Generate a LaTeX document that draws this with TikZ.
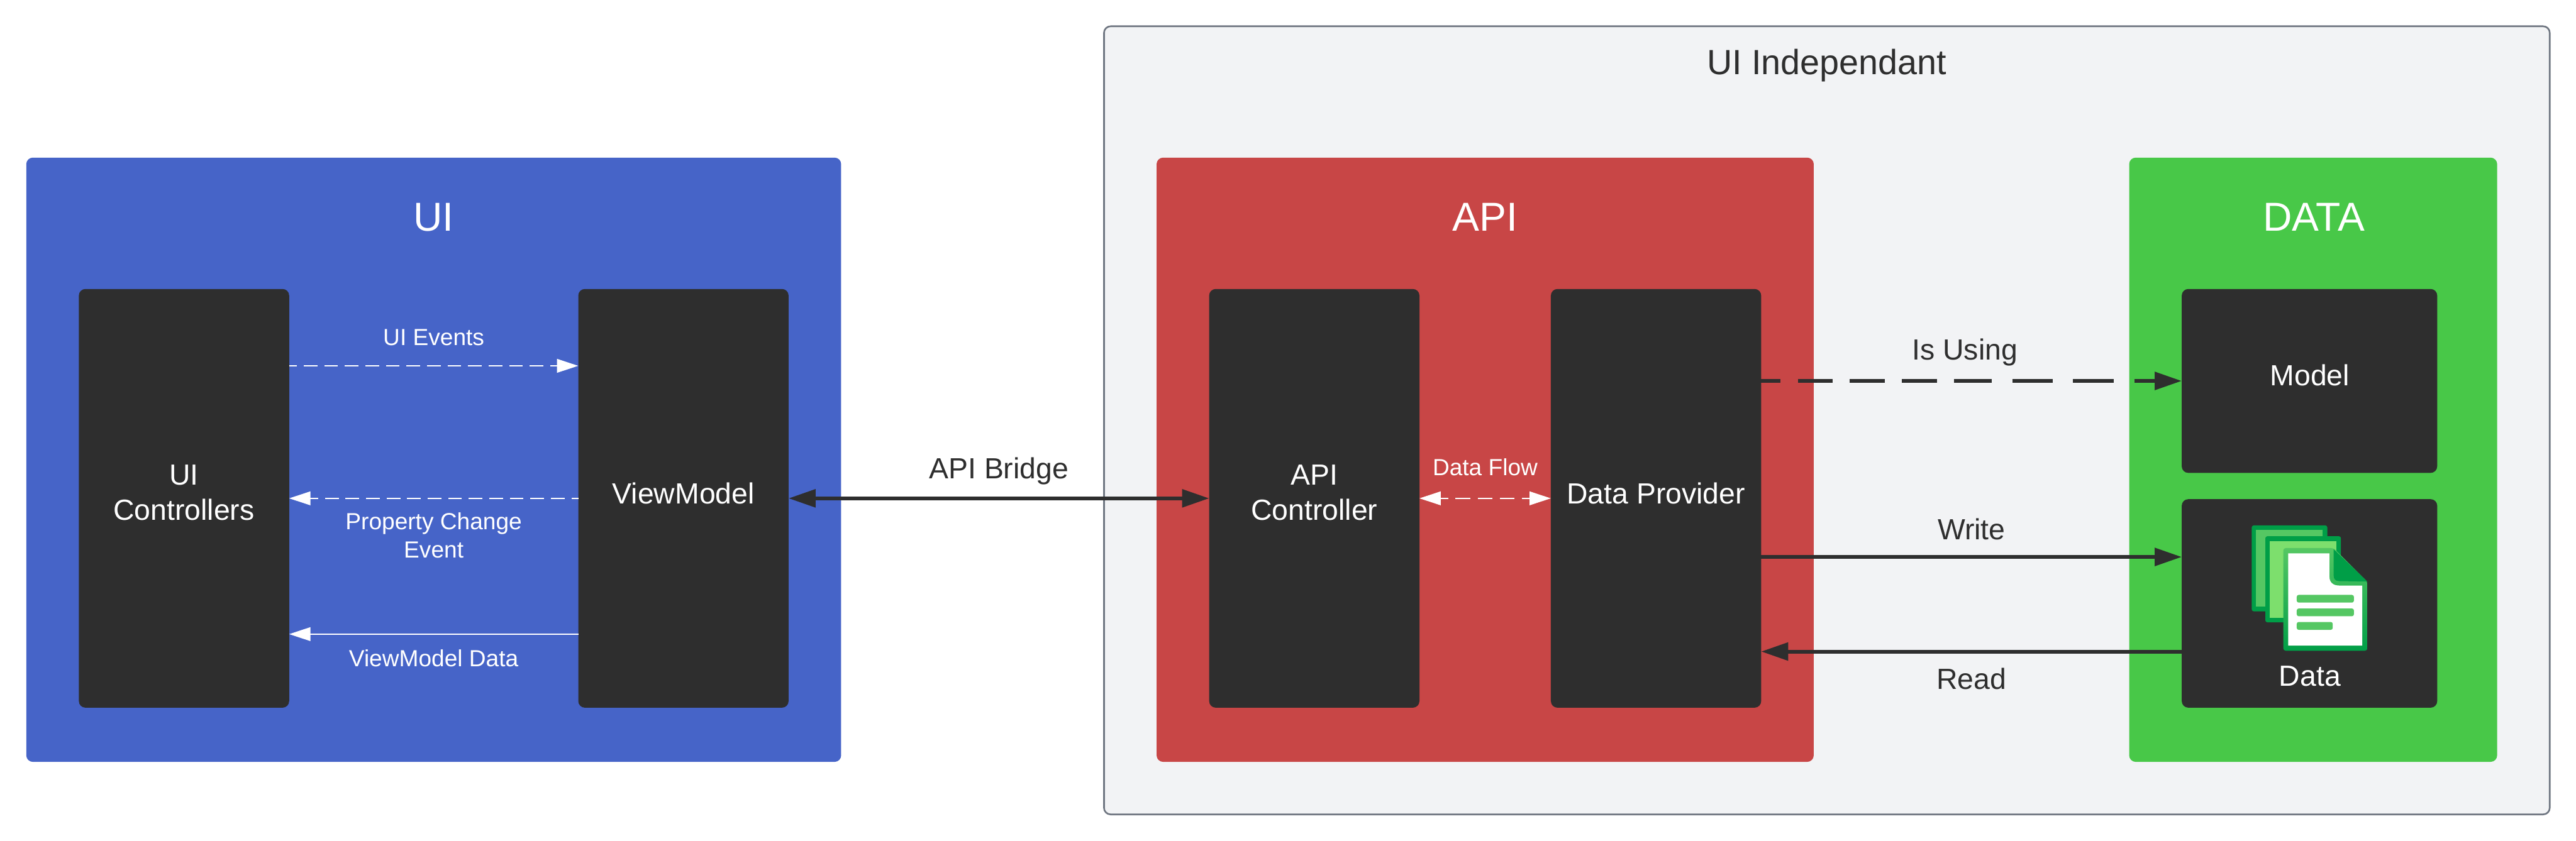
\documentclass[tikz,border=0pt]{standalone}
\usepackage{fontspec}
\setmainfont{Liberation Sans}
\usetikzlibrary{arrows.meta}
\definecolor{dark}{HTML}{2E2E2E}
\definecolor{uiblue}{HTML}{4664C8}
\definecolor{apired}{HTML}{C84646}
\definecolor{datagreen}{HTML}{48C848}
\definecolor{outerfill}{HTML}{F2F3F5}
\definecolor{outerline}{HTML}{6F7681}
\definecolor{icondark}{HTML}{009E47}
\definecolor{iconmid}{HTML}{55C763}
\definecolor{iconlight}{HTML}{7DDF6D}
\tikzset{
  panel/.style={rectangle,rounded corners=4pt,inner sep=0pt,outer sep=0pt},
  darkbox/.style={panel,fill=dark},
  txt/.style={inner sep=0pt,outer sep=0pt,anchor=base,align=center},
  title/.style={txt,font=\fontsize{24.6}{29}\selectfont,text=white},
  boxtext/.style={txt,font=\fontsize{17.75}{21.3}\selectfont,text=white},
  smalltext/.style={txt,font=\fontsize{14.2}{17}\selectfont,text=white},
  linktext/.style={txt,font=\fontsize{17.75}{21}\selectfont,text=dark},
  thin link/.style={white,line width=0.9pt,-{Triangle[length=13pt,width=8.3pt]}},
  thick link/.style={dark,line width=2.3pt,-{Triangle[length=16.5pt,width=10.7pt]}},
}
\begin{document}
\begin{tikzpicture}[x=1pt,y=-1pt]
\useasboundingbox (0,0) rectangle (1568,512);
% containers
\node[panel,fill=outerfill,draw=outerline,line width=1pt,minimum width=880pt,minimum height=480pt] (outer) at (1112,256) {};
\node[panel,fill=uiblue,minimum width=496pt,minimum height=368pt] (ui) at (264,280) {};
\node[panel,fill=apired,minimum width=400pt,minimum height=368pt] (api) at (904,280) {};
\node[panel,fill=datagreen,minimum width=224pt,minimum height=368pt] (data) at (1408,280) {};
% dark boxes
\node[darkbox,minimum width=128pt,minimum height=255pt] (uic) at (112,303.5) {};
\node[darkbox,minimum width=128pt,minimum height=255pt] (vm) at (416,303.5) {};
\node[darkbox,minimum width=128pt,minimum height=255pt] (ac) at (800,303.5) {};
\node[darkbox,minimum width=128pt,minimum height=255pt] (dp) at (1008,303.5) {};
\node[darkbox,minimum width=155.5pt,minimum height=112pt] (model) at (1405.75,232) {};
\node[darkbox,minimum width=155.5pt,minimum height=127pt] (databox) at (1405.75,367.5) {};
% connectors
\draw[thin link,dash pattern=on 8.33pt off 4.17pt,dash phase=3.6pt] ([yshift=80.7pt]uic.east) -- ([yshift=80.7pt]vm.west);
\draw[thin link,dash pattern=on 8.33pt off 4.17pt,dash phase=4.17pt] (vm.west) -- (uic.east);
\draw[thin link] ([yshift=-82.7pt]vm.west) -- ([yshift=-82.7pt]uic.east);
\draw[thick link,{Triangle[length=16.5pt,width=10.7pt]}-{Triangle[length=16.5pt,width=10.7pt]}] (vm.east) -- (ac.west);
\draw[thin link,{Triangle[length=13pt,width=8.3pt]}-{Triangle[length=13pt,width=8.3pt]},dash pattern=on 9pt off 4.5pt,dash phase=4.3pt] (ac.east) -- (dp.west);
\draw[thick link,dash pattern=on 11.8pt off 10.6pt on 21pt off 10.6pt on 21.2pt off 10.6pt on 21.2pt off 10.4pt on 23pt off 12.4pt on 24.7pt off 12.4pt on 24.8pt off 12.4pt on 60pt off 10pt] ([yshift=71.5pt]dp.east) -- (model.west);
\draw[thick link] ([yshift=-35.7pt]dp.east) -- ([yshift=28.3pt]databox.west);
\draw[thick link] ([yshift=-29.3pt]databox.west) -- ([yshift=-93.3pt]dp.east);
% titles and labels
\node[txt,font=\fontsize{21.33}{26}\selectfont,text=dark] (toutr) at (1112,45.5) {UI Independant};
\node[title] (tui) at (264,140.6) {UI};
\node[title] (tapi) at (904,140.6) {API};
\node[title] (tdata) at (1408.5,140.6) {DATA};
\node[boxtext] (tuic) at (112,316.6) {UI\\Controllers};
\node[boxtext] (tvm) at (416,306.8) {ViewModel};
\node[boxtext] (tac) at (800,316.6) {API\\Controller};
\node[boxtext] (tdp) at (1008,306.8) {Data Provider};
\node[boxtext] (tmodel) at (1406,235) {Model};
\node[boxtext] (tdatabox) at (1406,417.7) {Data};
\node[smalltext] (lev) at (264,210.5) {UI Events};
\node[smalltext] (lpc) at (264,339.7) {Property Change\\Event};
\node[smalltext] (lvd) at (264,406) {ViewModel Data};
\node[smalltext] (ldf) at (904,289.5) {Data Flow};
\node[linktext] (lapi) at (608,291.6) {API Bridge};
\node[linktext] (luse) at (1196,219) {Is Using};
\node[linktext] (lwr) at (1200,328.5) {Write};
\node[linktext] (lrd) at (1200,419.6) {Read};
% document icon
\fill[icondark,rounded corners=1.2pt] (1370.6,320) rectangle (1416.6,372.3);
\fill[iconmid] (1373.3,322.8) rectangle (1413.7,369.5);
\fill[icondark,rounded corners=1.2pt] (1378.9,326.6) rectangle (1424.9,379);
\fill[iconlight] (1381.6,329.5) rectangle (1422,376.2);
\shade[top color=iconmid,bottom color=icondark,rounded corners=1.5pt] (1389.8,333.8) -- (1420.5,333.8) -- (1441,354.4) -- (1441,396.3) -- (1389.8,396.3) -- cycle;
\fill[white] (1392.8,337) -- (1417.9,337) -- (1417.9,351.2) .. controls (1417.9,354.6) and (1420,356.6) .. (1423.8,356.6) -- (1437.9,356.6) -- (1437.9,393.2) -- (1392.8,393.2) -- cycle;
\fill[icondark] (1420.5,334.5) -- (1441,354.2) -- (1423.8,353.9) .. controls (1421.5,353.9) and (1420.5,352.5) .. (1420.5,350.7) -- cycle;
\fill[iconmid,rounded corners=1.2pt] (1398,362.3) rectangle (1432.8,367);
\fill[iconmid,rounded corners=1.2pt] (1398,370.6) rectangle (1432.8,375.3);
\fill[iconmid,rounded corners=1.2pt] (1398,378.8) rectangle (1419.9,383.6);
\end{tikzpicture}
\end{document}
